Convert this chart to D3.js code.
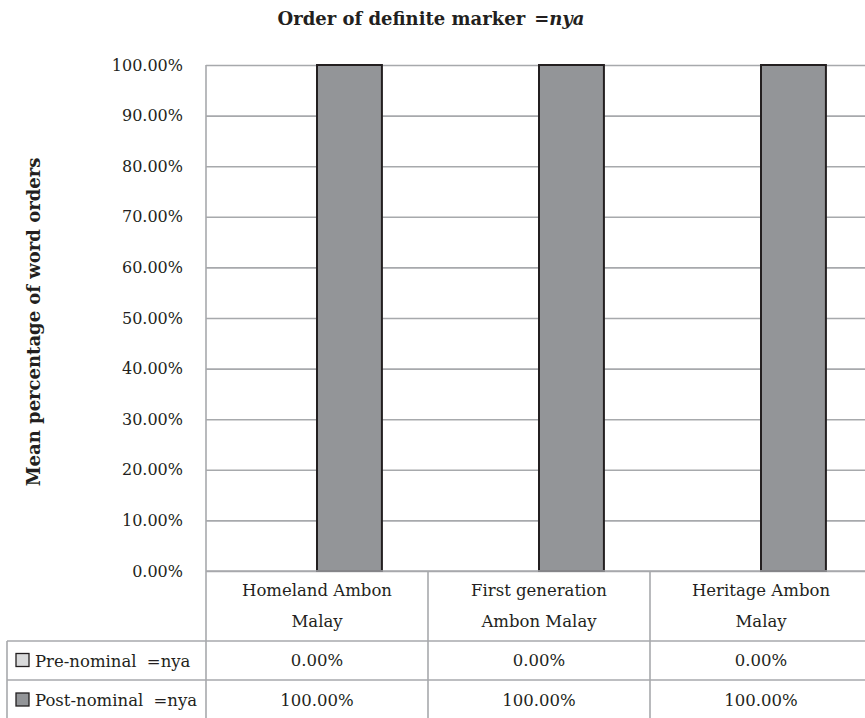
<!DOCTYPE html>
<html>
<head>
<meta charset="utf-8">
<script src="https://cdn.jsdelivr.net/npm/d3@7"></script>
<style>
  body { margin: 0; background: #fff; }
  svg { display: block; }
  text { font-family: "DejaVu Serif", "Liberation Serif", serif; fill: #231f20; }
</style>
</head>
<body>
<div id="chart"></div>
<script>
// chart data
var categories = ["Homeland Ambon Malay", "First generation Ambon Malay", "Heritage Ambon Malay"];
var categoryLines = [["Homeland Ambon", "Malay"], ["First generation", "Ambon Malay"], ["Heritage Ambon", "Malay"]];
var seriesNames = ["Pre-nominal =nya", "Post-nominal =nya"];
var preNominal = [0, 0, 0];
var postNominal = [100, 100, 100];
var yTicks = [0, 10, 20, 30, 40, 50, 60, 70, 80, 90, 100];
var seriesColors = ["#d9dadb", "#939598"];

var svgWidth = 865;
var svgHeight = 718;

var margin = { top: 65, left: 206 };
var plotRight = 872;   // plot runs a little past the page edge
var plotBottom = 571;

var svg = d3.select("#chart")
  .append("svg")
  .attr("width", svgWidth)
  .attr("height", svgHeight);

var lineColor = "#a7a9ac";

// scales
var xScale = d3.scaleBand()
  .domain(categories)
  .range([margin.left, plotRight])
  .paddingInner(0)
  .paddingOuter(0);

var xSeries = d3.scaleBand()
  .domain(seriesNames)
  .range([0, xScale.bandwidth()])
  .paddingInner(0)
  .paddingOuter(0.71);

var yScale = d3.scaleLinear()
  .domain([0, 100])
  .range([plotBottom, margin.top]);

// gridlines + tick labels
var yAxis = d3.axisLeft(yScale)
  .tickValues(yTicks)
  .tickSize(-(plotRight - margin.left))
  .tickPadding(23)
  .tickFormat(d => d.toFixed(2) + "%");

var yAxisGroup = svg.append("g")
  .attr("transform", `translate(${margin.left}, 0)`)
  .call(yAxis);

yAxisGroup.select(".domain").remove();
yAxisGroup.selectAll(".tick line")
  .attr("stroke", lineColor)
  .attr("stroke-width", 1.6);
yAxisGroup.selectAll(".tick text")
  .attr("font-size", "16px")
  .attr("font-family", "DejaVu Serif")
  .attr("fill", "#231f20");

// bars
var rows = seriesNames.map((name, i) => ({
  name: name,
  color: seriesColors[i],
  values: i === 0 ? preNominal : postNominal
}));

rows.forEach(function(row) {
  svg.append("g")
    .selectAll("rect")
    .data(row.values.map((v, j) => ({ cat: categories[j], value: v })))
    .enter()
    .append("rect")
    .filter(d => d.value > 0)
    .attr("x", d => xScale(d.cat) + xSeries(row.name))
    .attr("y", d => yScale(d.value))
    .attr("width", xSeries.bandwidth())
    .attr("height", d => yScale(0) - yScale(d.value))
    .attr("fill", row.color)
    .attr("stroke", "#231f20")
    .attr("stroke-width", 2);
});

// data table
var table = svg.append("g");
var rowTop = [641, 680, 720];
var tableLeft = 7;

// horizontal lines
table.append("line")
  .attr("x1", margin.left).attr("x2", plotRight)
  .attr("y1", plotBottom).attr("y2", plotBottom)
  .attr("stroke", lineColor).attr("stroke-width", 1.6);
rowTop.slice(0, 2).forEach(function(y) {
  table.append("line")
    .attr("x1", tableLeft).attr("x2", plotRight)
    .attr("y1", y).attr("y2", y)
    .attr("stroke", lineColor).attr("stroke-width", 1.6);
});

// vertical lines
table.append("line")
  .attr("x1", margin.left).attr("x2", margin.left)
  .attr("y1", margin.top).attr("y2", svgHeight)
  .attr("stroke", lineColor).attr("stroke-width", 1.6);
table.append("line")
  .attr("x1", tableLeft).attr("x2", tableLeft)
  .attr("y1", rowTop[0]).attr("y2", svgHeight)
  .attr("stroke", lineColor).attr("stroke-width", 1.6);
categories.slice(1).forEach(function(c) {
  table.append("line")
    .attr("x1", xScale(c)).attr("x2", xScale(c))
    .attr("y1", plotBottom).attr("y2", svgHeight)
    .attr("stroke", lineColor).attr("stroke-width", 1.6);
});

// category labels
categories.forEach(function(c, i) {
  categoryLines[i].forEach(function(line, k) {
    table.append("text")
      .attr("x", xScale(c) + xScale.bandwidth() / 2)
      .attr("y", 590 + k * 31)
      .attr("text-anchor", "middle")
      .attr("dominant-baseline", "central")
      .attr("font-size", "16.5px")
      .text(line);
  });
});

// value rows with legend keys
rows.forEach(function(row, r) {
  var cy = (rowTop[r] + rowTop[r + 1]) / 2;
  table.append("rect")
    .attr("x", 16).attr("y", cy - 7)
    .attr("width", 13).attr("height", 13)
    .attr("fill", row.color)
    .attr("stroke", "#231f20")
    .attr("stroke-width", 1.3);
  var parts = row.name.split("=");
  var label = table.append("text")
    .attr("x", 35).attr("y", cy)
    .attr("dominant-baseline", "central")
    .attr("font-size", "16.5px")
    .attr("xml:space", "preserve");
  label.append("tspan").text(parts[0]);
  label.append("tspan").attr("dx", 5).text("=" + parts[1]);

  row.values.forEach(function(v, j) {
    table.append("text")
      .attr("x", xScale(categories[j]) + xScale.bandwidth() / 2)
      .attr("y", cy)
      .attr("text-anchor", "middle")
      .attr("dominant-baseline", "central")
      .attr("font-size", "16.5px")
      .text(v.toFixed(2) + "%");
  });
});

// chart title
var title = svg.append("text")
  .attr("x", 431)
  .attr("y", 18)
  .attr("text-anchor", "middle")
  .attr("dominant-baseline", "central")
  .attr("font-size", "18px")
  .attr("font-weight", "bold");
title.append("tspan").text("Order of definite marker");
title.append("tspan").attr("dx", 9).text("=");
title.append("tspan").attr("font-style", "italic").text("nya");

// y axis title
svg.append("text")
  .attr("transform", `translate(33, ${(margin.top + plotBottom) / 2 + 4}) rotate(-90)`)
  .attr("text-anchor", "middle")
  .attr("dominant-baseline", "central")
  .attr("font-size", "18px")
  .attr("font-weight", "bold")
  .text("Mean percentage of word orders");
</script>
</body>
</html>
